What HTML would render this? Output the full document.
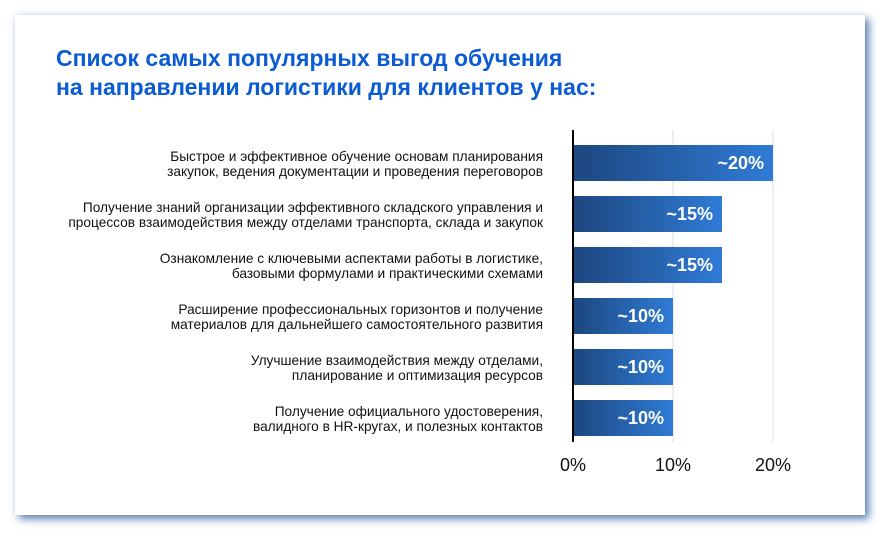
<!DOCTYPE html>
<html><head><meta charset="utf-8"><style>
body{margin:0;width:890px;height:540px;background:#fff;position:relative;font-family:"Liberation Sans",sans-serif;overflow:hidden}
.card{position:absolute;left:15px;top:15px;width:850px;height:500px;background:#fff;box-shadow:4px 4px 8px rgba(40,90,160,.75),0 0 6px rgba(0,0,0,.08)}
.t{position:absolute;left:56px;top:44px;font-size:23px;font-weight:bold;color:#0b5bd3;line-height:29px;letter-spacing:0px}
.lab{position:absolute;right:347px;font-size:13.7px;line-height:15px;text-align:right;color:#111;white-space:nowrap}
.bar{position:absolute;left:573px;height:36px;background:linear-gradient(90deg,#1d477f,#2f7bd6)}
.bar span{position:absolute;right:9px;top:8px;color:#fff;font-weight:bold;font-size:18px}
.g{position:absolute;top:130px;height:312px;width:2px;background:#eee}
.ax{position:absolute;left:572px;top:130px;width:2px;height:312px;background:#000}
.tk{position:absolute;top:455px;font-size:18px;color:#111;width:60px;text-align:center}
</style></head><body>
<div class="card"></div>
<div class="t">Список самых популярных выгод обучения<br>на направлении логистики для клиентов у нас:</div>
<div class="g" style="left:672px"></div><div class="g" style="left:772px"></div>
<div class="lab" style="top:149px">Быстрое и эффективное обучение основам планирования<br>закупок, ведения документации и проведения переговоров</div>
<div class="lab" style="top:200px">Получение знаний организации эффективного складского управления и<br>процессов взаимодействия между отделами транспорта, склада и закупок</div>
<div class="lab" style="top:251px">Ознакомление с ключевыми аспектами работы в логистике,<br>базовыми формулами и практическими схемами</div>
<div class="lab" style="top:302px">Расширение профессиональных горизонтов и получение<br>материалов для дальнейшего самостоятельного развития</div>
<div class="lab" style="top:353px">Улучшение взаимодействия между отделами,<br>планирование и оптимизация ресурсов</div>
<div class="lab" style="top:404px">Получение официального удостоверения,<br>валидного в HR-кругах, и полезных контактов</div>
<div class="bar" style="top:145px;width:200px"><span>~20%</span></div>
<div class="bar" style="top:196px;width:149px"><span>~15%</span></div>
<div class="bar" style="top:247px;width:149px"><span>~15%</span></div>
<div class="bar" style="top:298px;width:100px"><span>~10%</span></div>
<div class="bar" style="top:349px;width:100px"><span>~10%</span></div>
<div class="bar" style="top:400px;width:100px"><span>~10%</span></div>
<div class="ax"></div>
<div class="tk" style="left:543px">0%</div>
<div class="tk" style="left:643px">10%</div>
<div class="tk" style="left:743px">20%</div>
</body></html>
